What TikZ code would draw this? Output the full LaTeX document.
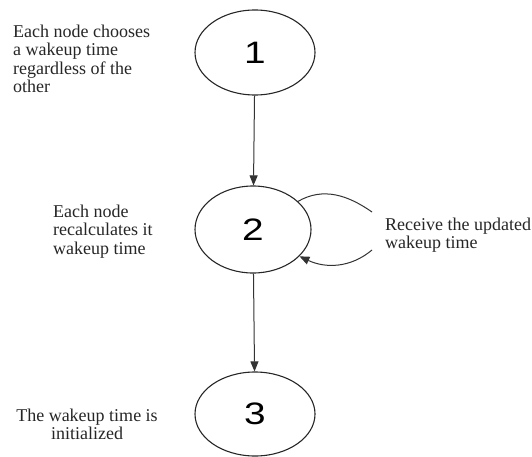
\documentclass[tikz,border=0pt]{standalone}
\usepackage{fontspec}
\setmainfont{Liberation Serif}
\newfontfamily\numfont[FakeStretch=1.25]{Liberation Sans}
\usetikzlibrary{shapes.geometric,arrows.meta}
\tikzset{
  state/.style={ellipse,draw=black!85,line width=1.1pt,minimum width=120pt,
    minimum height=85pt,inner sep=0pt,font=\numfont\fontsize{31}{31}\selectfont},
  note/.style={inner sep=0pt,text=black!85,font=\fontsize{18}{18.5}\selectfont},
  flow/.style={draw=black!80,line width=1pt,-{Triangle[length=10pt,width=8pt]}},
  back/.style={draw=black!80,line width=1pt}
}
\begin{document}
\begin{tikzpicture}[x=1pt,y=1pt]
  \useasboundingbox (0,0) rectangle (532,456);

  \node[state] (S1) at (255,403.5) {1};
  \node[state,minimum width=116pt,minimum height=87pt] (S2) at (253,226.5) {2};
  \node[state,minimum height=84pt] (S3) at (255,42) {3};

  \node[note,align=left,anchor=north west] (T1) at (13,431.3)
    {Each node chooses\\a wakeup time\\regardless of the\\other};
  \node[note,align=left,anchor=north west] (T2) at (53,251.3)
    {Each node\\recalculates it\\wakeup time};
  \node[note,align=left,anchor=north west] (T3) at (385,238.3)
    {Receive the updated\\wakeup time};
  \node[note,align=center,anchor=north] (T4) at (87,47.3)
    {The wakeup time is\\initialized};

  \coordinate (L1) at (372,244);
  \coordinate (L2) at (372,206);

  \draw[flow] (S1) -- (S2);
  \draw[flow] (S2) -- (S3);
  \draw[back] (S2.32) to[out=30,in=145] (L1);
  \draw[flow] (L2) to[out=220,in=-25] (S2.-30);
\end{tikzpicture}
\end{document}
